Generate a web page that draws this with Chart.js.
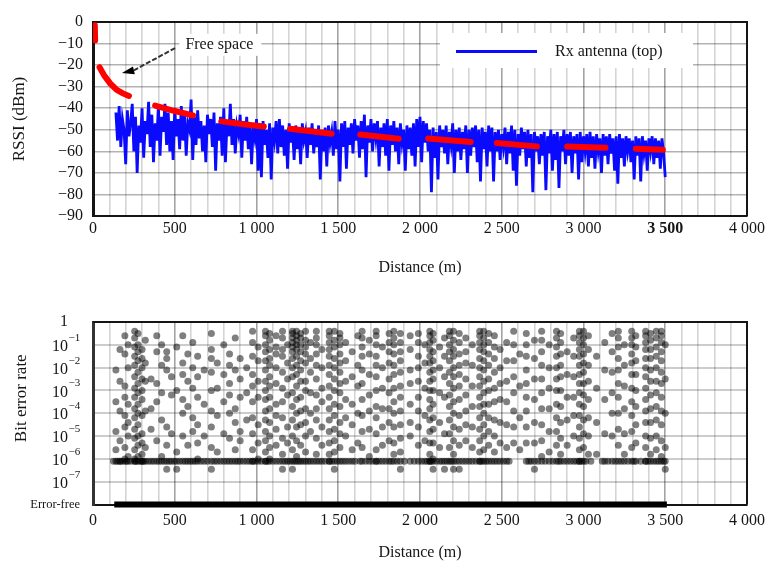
<!DOCTYPE html>
<html>
<head>
<meta charset="utf-8">
<script src="https://cdn.jsdelivr.net/npm/chart.js@4.4.1/dist/chart.umd.min.js"></script>
<style>
  html, body { margin: 0; padding: 0; background: #fff; }
  .panel { position: relative; width: 765px; }
  #rssi-wrap { height: 290px; }
  #ber-wrap { height: 271px; }
</style>
</head>
<body>
<div class="panel" id="rssi-wrap"><canvas id="rssi-chart"></canvas></div>
<div class="panel" id="ber-wrap"><canvas id="ber-chart"></canvas></div>
<script>
// ---- data ----

// free-space model, drawn as separate dashes (null = break)
const redDist = [11, 13, null, 40, 70, 105, 145, 180, 220, null, 380, 500, 612, null,
  785, 920, 1045, null, 1205, 1460, null, 1635, 1870, null, 2050, 2310, null,
  2470, 2715, null, 2900, 3135, null, 3320, 3485];
const redRssi = [-1.5, -8.5, null, -21, -25, -28.5, -31.5, -33, -34.3, null, -38.8, -41.3, -43.3, null,
  -46.1, -47.4, -48.5, null, -49.5, -51.8, null, -52.2, -54.2, null, -54, -55.7, null,
  -56.1, -57.7, null, -57.8, -58.3, null, -58.8, -59.3];

// measured RSSI, one sample every 10 m from 140 m
const blueStart = 140;
const blueStep = 10;
const blueRssi = [
  -42, -55, -39, -58, -45, -50, -66, -41, -53, -47,
  -38, -60, -44, -70, -48, -56, -40, -63, -46, -52,
  -37, -58, -43, -65, -47, -55, -39, -62, -44, -51,
  -38, -57, -42, -60, -46, -64, -40, -53, -45, -59,
  -39, -55, -43, -62, -47, -50, -36, -64, -44, -57,
  -41, -54, -46, -60, -48, -65, -43, -52, -45, -58,
  -42, -69, -47, -55, -44, -62, -40, -65, -46, -53,
  -38, -57, -45, -61, -48, -52, -43, -63, -46, -55,
  -44, -59, -47, -66, -49, -54, -45, -69, -48, -72,
  -46, -57, -50, -63, -47, -73, -49, -55, -46, -61,
  -45, -58, -48, -62, -50, -68, -47, -56, -49, -64,
  -48, -59, -50, -66, -47, -55, -51, -63, -49, -57,
  -47, -61, -50, -58, -48, -73, -51, -60, -49, -67,
  -48, -56, -51, -62, -46, -59, -50, -74, -47, -58,
  -46, -68, -49, -57, -47, -61, -45, -55, -48, -63,
  -46, -59, -43, -72, -48, -56, -45, -60, -47, -54,
  -46, -67, -49, -58, -47, -62, -45, -69, -48, -57,
  -46, -60, -49, -66, -47, -56, -50, -69, -48, -59,
  -49, -62, -47, -67, -45, -58, -44, -65, -46, -56,
  -47, -60, -50, -79, -49, -63, -51, -73, -48, -58,
  -50, -61, -48, -66, -51, -57, -47, -70, -50, -60,
  -49, -64, -51, -59, -48, -70, -50, -62, -49, -58,
  -48, -65, -50, -74, -49, -59, -51, -67, -48, -60,
  -49, -74, -51, -60, -50, -64, -52, -58, -49, -66,
  -51, -61, -48, -69, -50, -76, -52, -62, -49, -59,
  -51, -67, -50, -63, -52, -79, -51, -60, -53, -66,
  -52, -62, -51, -78, -53, -61, -50, -69, -52, -64,
  -51, -77, -53, -60, -50, -66, -52, -62, -51, -70,
  -53, -61, -52, -73, -51, -65, -53, -60, -52, -67,
  -51, -63, -53, -68, -52, -60, -54, -70, -52, -62,
  -53, -66, -52, -61, -54, -69, -53, -75, -52, -63,
  -54, -67, -53, -60, -54, -65, -55, -73, -53, -62,
  -54, -74, -53, -61, -55, -69, -54, -60, -53, -66,
  -54, -63, -55, -68, -54, -61, -72,
];

// bit error rate: measurement columns (m) and log10(BER) of each point in them
const berDist = [140, 165, 195, 215, 255, 275, 300, 320, 355, 390, 420, 451, 480, 512, 549, 580, 610, 640,
  680, 724, 760, 800, 835, 870, 900, 940, 976, 1010, 1055, 1080, 1120, 1159, 1190, 1220, 1245,
  1270, 1300, 1330, 1366, 1400, 1445, 1476, 1510, 1545, 1585, 1620, 1646, 1690, 1732, 1770,
  1811, 1840, 1880, 1940, 1990, 2030, 2060, 2080, 2120, 2150, 2180, 2205, 2240, 2280, 2320,
  2365, 2390, 2420, 2455, 2490, 2530, 2573, 2610, 2650, 2700, 2744, 2790, 2835, 2860, 2900,
  2940, 2975, 3000, 3030, 3080, 3130, 3175, 3213, 3250, 3295, 3320, 3380, 3410, 3445, 3476, 3500];
const berLog = [
  [-2.1, -3.5, -4.8, -6.1, -5.6],
  [-1.2, -2.6, -3.9, -5.2, -6.1, -6.1],
  [-0.6, -1.4, -2.8, -3.3, -4.1, -4.6, -5.5, -6.1, -6.0],
  [-1.0, -2.0, -3.6, -4.4, -5.0, -5.9, -6.1],
  [-0.4, -0.7, -1.1, -1.5, -1.9, -2.4, -2.9, -3.3, -3.8, -4.2, -4.7, -5.1, -5.6, -6.0, -6.1, -6.1],
  [-0.5, -1.0, -1.3, -1.7, -2.2, -2.7, -3.1, -3.6, -4.0, -4.5, -5.0, -5.4, -5.9, -6.1],
  [-1.2, -1.6, -2.0, -2.5, -3.0, -3.4, -4.1, -4.9, -5.3, -5.8, -6.1, -6.1],
  [-0.8, -1.8, -2.6, -3.9, -5.5, -6.1],
  [-2.5, -3.8, -4.7, -6.1],
  [-0.6, -1.3, -2.7, -3.5, -5.2, -6.1],
  [-1.0, -1.9, -3.1, -4.3, -5.9, -6.1],
  [-1.3, -1.6, -2.1, -4.6, -5.4, -6.1, -6.45],
  [-2.4, -3.2, -4.9, -6.1],
  [-1.1, -3.0, -5.7, -6.1, -6.45],
  [-0.6, -1.8, -2.3, -3.4, -4.0, -5.0, -6.1],
  [-1.4, -2.6, -3.7, -5.4, -6.1],
  [-0.9, -2.0, -2.9, -4.2, -4.8, -6.1],
  [-1.5, -2.4, -3.3, -4.5, -5.3, -6.1, -6.0],
  [-2.1, -3.6, -5.0, -6.1],
  [-0.5, -1.2, -1.6, -2.2, -3.0, -3.9, -4.6, -5.5, -6.1, -6.45],
  [-1.8, -2.9, -4.1, -5.7, -6.1],
  [-1.0, -2.3, -3.5, -4.9, -6.1],
  [-1.4, -1.9, -2.7, -3.2, -4.0, -5.1, -6.1],
  [-0.7, -2.1, -3.8, -4.4, -5.6, -6.1],
  [-1.6, -2.5, -3.3, -4.8, -5.2, -6.1],
  [-2.0, -3.1, -4.3, -6.1],
  [-0.4, -0.9, -1.5, -2.3, -2.8, -3.5, -4.2, -4.9, -5.6, -6.1, -6.1],
  [-1.1, -1.7, -2.6, -3.3, -4.5, -5.3, -6.0, -6.1],
  [-0.4, -0.6, -1.0, -1.3, -1.7, -2.1, -2.6, -3.0, -3.4, -3.9, -4.3, -4.8, -5.2, -5.7, -6.1, -6.1],
  [-0.5, -0.8, -1.2, -1.6, -1.9, -2.4, -2.8, -3.3, -3.8, -4.4, -5.0, -5.5, -6.0, -6.1],
  [-0.6, -1.1, -1.4, -2.0, -2.7, -3.6, -4.1, -4.7, -5.4, -6.1],
  [-0.4, -0.7, -1.2, -1.5, -2.2, -2.9, -3.5, -4.2, -5.1, -5.8, -6.1, -6.45],
  [-1.0, -1.8, -2.5, -3.2, -4.6, -5.3, -6.1],
  [-0.4, -0.5, -0.7, -0.9, -1.1, -1.3, -1.6, -2.0, -2.4, -3.1, -3.7, -4.3, -5.0, -5.6, -6.1, -6.45],
  [-0.4, -0.6, -0.8, -1.0, -1.2, -1.5, -1.9, -2.3, -2.8, -3.4, -4.0, -4.6, -5.2, -5.9, -6.1],
  [-0.5, -0.7, -1.0, -1.3, -1.7, -2.1, -2.6, -3.3, -3.9, -4.5, -5.4, -6.1],
  [-0.4, -0.8, -1.1, -1.4, -1.8, -2.6, -3.0, -3.8, -4.4, -5.0, -5.7, -6.1],
  [-0.9, -1.6, -2.2, -3.1, -4.0, -4.8, -6.1],
  [-0.4, -0.7, -1.0, -1.4, -1.9, -2.5, -3.2, -3.8, -4.3, -5.1, -5.8, -6.1],
  [-1.2, -2.0, -2.9, -3.5, -4.6, -5.4, -6.1],
  [-0.4, -0.6, -0.9, -1.2, -1.5, -1.9, -2.3, -2.8, -3.3, -3.8, -4.3, -4.8, -5.3, -5.8, -6.1, -6.1],
  [-0.4, -0.8, -1.1, -1.6, -2.0, -2.5, -3.0, -3.6, -4.1, -4.7, -5.2, -5.7, -6.1, -6.45],
  [-0.5, -0.7, -1.0, -1.4, -1.8, -2.2, -2.7, -3.1, -3.7, -4.4, -4.9, -5.5, -6.1],
  [-0.9, -1.7, -2.6, -3.4, -4.2, -5.0, -6.1],
  [-1.3, -2.4, -3.6, -4.5, -5.6, -6.1],
  [-0.6, -1.9, -2.8, -4.0, -5.3],
  [-0.4, -0.7, -1.1, -1.5, -2.1, -2.7, -3.4, -4.1, -4.8, -5.5, -6.1],
  [-0.8, -1.4, -2.3, -3.2, -3.9, -4.7, -5.9, -6.1],
  [-0.4, -0.6, -1.0, -1.5, -1.9, -2.4, -3.0, -3.7, -4.2, -4.9, -5.6, -6.1, -6.1],
  [-1.1, -2.0, -2.9, -3.8, -4.6, -5.4, -6.1],
  [-0.5, -0.9, -1.3, -1.8, -2.5, -3.1, -3.8, -4.4, -5.2, -6.1],
  [-0.4, -0.7, -1.0, -1.4, -1.9, -2.3, -2.9, -3.5, -4.0, -4.6, -5.3, -5.8, -6.1],
  [-0.5, -0.9, -1.3, -1.7, -2.2, -2.8, -3.3, -3.9, -4.5, -5.1, -5.7, -6.1, -6.45],
  [-0.6, -1.2, -2.1, -2.7, -3.6, -4.4, -5.0, -6.1],
  [-0.5, -0.9, -1.5, -2.0, -2.6, -3.3, -3.9, -4.6, -5.4, -6.1],
  [-1.0, -1.8, -2.9, -4.1, -5.2, -6.1],
  [-0.4, -0.6, -0.9, -1.2, -1.5, -1.8, -2.2, -2.6, -3.0, -3.4, -3.8, -4.3, -4.8, -5.3, -5.8, -6.1, -6.1],
  [-0.5, -0.8, -1.3, -1.7, -2.1, -2.5, -3.0, -3.6, -4.2, -4.7, -5.3, -6.0, -6.1, -6.45],
  [-1.1, -2.0, -3.1, -4.4, -5.5, -6.1],
  [-0.7, -1.5, -2.4, -3.3, -4.9, -6.1, -6.45],
  [-0.4, -0.6, -1.0, -1.3, -1.7, -2.2, -2.7, -3.2, -3.7, -4.3, -4.9, -5.5, -6.1],
  [-0.4, -0.8, -1.2, -1.5, -2.0, -2.4, -2.9, -3.5, -4.0, -4.6, -5.2, -5.8, -6.1, -6.45],
  [-0.5, -0.9, -1.4, -1.9, -2.3, -2.8, -3.4, -4.1, -4.7, -5.4, -6.1, -6.45],
  [-0.7, -1.3, -1.8, -2.5, -3.2, -3.9, -4.5, -5.2, -6.1],
  [-1.0, -1.9, -2.8, -3.7, -4.6, -5.5, -6.1],
  [-0.4, -0.6, -0.9, -1.2, -1.6, -2.0, -2.4, -2.8, -3.3, -3.7, -4.2, -4.7, -5.2, -5.7, -6.1, -6.1],
  [-0.4, -0.7, -1.0, -1.3, -1.7, -2.1, -2.6, -3.1, -3.6, -4.0, -4.5, -5.0, -5.6, -6.1],
  [-0.5, -0.9, -1.4, -1.9, -2.5, -3.0, -3.6, -4.2, -4.8, -5.4, -6.1],
  [-0.6, -1.1, -1.6, -2.2, -2.9, -3.5, -4.3, -5.0, -5.7, -6.1],
  [-1.2, -2.0, -2.7, -3.4, -4.4, -5.3, -6.1],
  [-0.9, -1.7, -2.6, -3.5, -4.5, -5.5, -6.1],
  [-0.4, -1.0, -1.7, -2.4, -3.1, -3.9, -4.6, -5.3],
  [-1.4, -2.8, -4.2, -5.6],
  [-0.5, -1.0, -1.5, -2.1, -2.7, -3.3, -3.9, -4.6, -5.3, -6.1],
  [-0.8, -1.6, -2.5, -3.4, -4.4, -5.3, -6.1, -6.45],
  [-0.4, -0.8, -1.3, -1.9, -2.5, -3.1, -3.8, -4.5, -5.2, -5.9, -6.1],
  [-1.0, -2.0, -2.9, -3.8, -4.8, -5.7, -6.1],
  [-0.4, -0.7, -1.1, -1.5, -2.0, -2.5, -3.0, -3.6, -4.2, -4.8, -5.4, -6.1],
  [-0.5, -0.9, -1.4, -1.9, -2.4, -3.0, -3.7, -4.4, -5.1, -5.8, -6.1],
  [-1.3, -2.3, -3.3, -4.3, -5.4, -6.1],
  [-0.7, -1.5, -2.4, -3.3, -4.1, -5.0, -6.1],
  [-0.4, -0.6, -0.9, -1.2, -1.5, -1.9, -2.3, -2.7, -3.1, -3.6, -4.1, -4.6, -5.1, -5.6, -6.1, -6.1],
  [-0.4, -0.7, -1.0, -1.4, -1.8, -2.2, -2.7, -3.2, -3.7, -4.3, -4.9, -5.5, -6.1],
  [-0.6, -1.2, -1.9, -2.6, -3.4, -4.2, -5.0, -5.8],
  [-1.5, -2.9, -4.4, -5.8],
  [-0.9, -2.1, -3.4, -4.9, -6.1],
  [-0.5, -1.3, -2.2, -3.1, -4.0, -5.0, -6.1],
  [-0.4, -0.7, -1.1, -1.6, -2.1, -2.7, -3.3, -4.0, -4.7, -5.4, -6.1],
  [-1.0, -1.9, -2.8, -3.8, -4.9, -5.8, -6.1],
  [-0.4, -0.7, -1.0, -1.4, -1.8, -2.3, -2.9, -3.5, -4.1, -4.8, -5.5, -6.1],
  [-0.6, -1.1, -1.7, -2.3, -3.0, -3.7, -4.5, -5.3, -6.1],
  [-0.4, -0.6, -0.9, -1.2, -1.6, -2.0, -2.4, -2.9, -3.4, -3.9, -4.4, -5.0, -5.5, -6.1, -6.1],
  [-0.5, -0.8, -1.2, -1.6, -2.1, -2.6, -3.2, -3.8, -4.4, -5.1, -5.8, -6.1],
  [-0.4, -0.7, -1.1, -1.5, -2.0, -2.6, -3.1, -3.7, -4.3, -5.0, -5.6, -6.1],
  [-0.4, -0.6, -0.9, -1.3, -1.7, -2.2, -2.7, -3.3, -3.9, -4.5, -5.2, -5.9, -6.1],
  [-1.0, -2.5, -4.0, -5.5, -6.1, -6.45],
];

// runs that only reached the lowest measurable BER (the flat floor row)
const berFloorLog = -6.1;
const berFloorDist = [125, 150, 180, 205, 232, 265, 288, 310, 338, 372, 405, 436, 466, 497, 530,
  565, 595, 625, 660, 700, 742, 780, 818, 852, 885, 920, 958, 992, 1030, 1068, 1100, 1140, 1175,
  1205, 1232, 1258, 1285, 1315, 1348, 1383, 1420, 1460, 1493, 1527, 1565, 1603, 1633, 1668, 1710,
  1750, 1790, 1825, 1860, 1905, 1965, 2010, 2045, 2070, 2100, 2135, 2165, 2192, 2222, 2260, 2300,
  2342, 2378, 2405, 2438, 2472, 2510, 2545, 2665, 2680, 2722, 2766, 2812, 2848, 2880, 2920, 2958,
  2988, 3015, 3045, 3115, 3150, 3195, 3232, 3272, 3308, 3350, 3395, 3428, 3460, 3490];

// error-free runs sit on the bottom of the BER axis
const errorFreeDist = [130, 3510];
const errorFreeLevel = 1e-8;

// axis ticks
const rssiTicks = [0, -10, -20, -30, -40, -50, -60, -70, -80, -90];
const berTickExps = [0, -1, -2, -3, -4, -5, -6, -7, -8];
const labelledDistances = [0, 500, 1000, 1500, 2000, 2500, 3000, 3500, 4000];

const freeSpaceNote = {
  text: 'Free space',
  labelAt: [565, -10.6],
  lineFrom: [502, -12.1],
  arrowBase: [250, -22.4],
  arrowTip: [177, -23.7],
};

// ---- helpers ----
const SERIF = "'Liberation Serif', 'Times New Roman', serif";
const INK = '#151515';

function formatDistance(value) {
  if (!labelledDistances.includes(value)) {
    return '';
  }
  if (value < 1000) {
    return String(value);
  }
  return `${Math.floor(value / 1000)} ${String(value % 1000).padStart(3, '0')}`;
}

function distanceGridColor(ctx) {
  const v = ctx.tick ? ctx.tick.value : 1;
  return v % 500 === 0 ? 'rgba(0,0,0,0.36)' : 'rgba(0,0,0,0.17)';
}

function distanceAxis(tickPadding, titleFont, titlePadding, axisHeight, boldValue) {
  return {
    type: 'linear',
    min: 0,
    max: 4000,
    afterFit: (scale) => {
      scale.height = axisHeight;
      scale.paddingLeft = 0;
      scale.paddingRight = 0;
    },
    ticks: {
      stepSize: 100,
      autoSkip: false,
      maxRotation: 0,
      padding: tickPadding,
      color: INK,
      font: (ctx) => ({
        family: SERIF,
        size: 16,
        weight: ctx.tick && ctx.tick.value === boldValue ? 'bold' : 'normal',
      }),
      callback: (value) => formatDistance(value),
    },
    grid: { color: distanceGridColor, lineWidth: 1.6, drawTicks: false },
    border: { display: true, color: INK, width: 2 },
    title: {
      display: true,
      text: 'Distance (m)',
      color: INK,
      font: titleFont,
      padding: titlePadding,
    },
  };
}

const framePlugin = {
  id: 'frame',
  beforeDatasetsDraw(chart) {
    const { ctx, chartArea: a } = chart;
    ctx.save();
    ctx.strokeStyle = INK;
    ctx.lineWidth = 2;
    ctx.beginPath();
    ctx.moveTo(a.left, a.top);
    ctx.lineTo(a.right, a.top);
    ctx.lineTo(a.right, a.bottom);
    ctx.stroke();
    ctx.restore();
  },
};

const rssiNotesPlugin = {
  id: 'rssiNotes',
  beforeDatasetsDraw(chart) {
    const { ctx, scales } = chart;
    const px = ([d, v]) => [scales.x.getPixelForValue(d), scales.y.getPixelForValue(v)];
    ctx.save();

    // legend box
    ctx.fillStyle = '#fff';
    ctx.fillRect(440, 33, 253, 35);
    ctx.strokeStyle = '#0a0aff';
    ctx.lineWidth = 3;
    ctx.beginPath();
    ctx.moveTo(456, 51.5);
    ctx.lineTo(537, 51.5);
    ctx.stroke();
    ctx.fillStyle = INK;
    ctx.font = `16px ${SERIF}`;
    ctx.textBaseline = 'middle';
    ctx.textAlign = 'left';
    ctx.fillText('Rx antenna (top)', 555, 52);

    // free space label
    const [lx, ly] = px(freeSpaceNote.labelAt);
    const w = ctx.measureText(freeSpaceNote.text).width;
    ctx.fillStyle = '#fff';
    ctx.fillRect(lx - 6, ly - 11, w + 14, 22);
    ctx.fillStyle = INK;
    ctx.fillText(freeSpaceNote.text, lx, ly);

    // arrow
    const [fx, fy] = px(freeSpaceNote.lineFrom);
    const [bx, by] = px(freeSpaceNote.arrowBase);
    const [tx, ty] = px(freeSpaceNote.arrowTip);
    ctx.strokeStyle = '#333';
    ctx.lineWidth = 2;
    ctx.setLineDash([5, 2]);
    ctx.beginPath();
    ctx.moveTo(fx, fy);
    ctx.lineTo(bx, by);
    ctx.stroke();
    ctx.setLineDash([]);
    const ang = Math.atan2(ty - by, tx - bx);
    const half = 4;
    ctx.fillStyle = '#000';
    ctx.beginPath();
    ctx.moveTo(tx, ty);
    ctx.lineTo(bx + Math.sin(ang) * half, by - Math.cos(ang) * half);
    ctx.lineTo(bx - Math.sin(ang) * half, by + Math.cos(ang) * half);
    ctx.closePath();
    ctx.fill();
    ctx.restore();
  },
};

const berLabelsPlugin = {
  id: 'berLabels',
  afterDraw(chart) {
    const { ctx, scales, chartArea } = chart;
    ctx.save();
    ctx.fillStyle = INK;
    ctx.textBaseline = 'middle';
    berTickExps.forEach((exp) => {
      const y = scales.y.getPixelForValue(10 ** exp);
      if (exp === 0) {
        ctx.font = `16px ${SERIF}`;
        ctx.textAlign = 'right';
        ctx.fillText('1', 68, y);
      } else if (10 ** exp === errorFreeLevel) {
        ctx.font = `12.5px ${SERIF}`;
        ctx.textAlign = 'right';
        ctx.fillText('Error-free', 80, y);
      } else {
        ctx.font = `16px ${SERIF}`;
        ctx.textAlign = 'right';
        ctx.fillText('10', 68, y + 2);
        ctx.font = `11px ${SERIF}`;
        ctx.textAlign = 'left';
        ctx.fillText(`\u2212${-exp}`, 68.5, y - 7);
      }
    });

    ctx.translate(22, (chartArea.top + chartArea.bottom) / 2 - 15);
    ctx.rotate(-Math.PI / 2);
    ctx.textAlign = 'center';
    ctx.font = `17px ${SERIF}`;
    ctx.fillText('Bit error rate', 0, 0);
    ctx.restore();
  },
};

// ---- RSSI chart ----
const blueData = blueRssi.map((v, i) => ({ x: blueStart + i * blueStep, y: v }));
const redData = redDist.map((d, i) => ({ x: d, y: redRssi[i] }));

new Chart(document.getElementById('rssi-chart'), {
  type: 'line',
  data: {
    datasets: [
      {
        label: 'Free space',
        data: redData,
        borderColor: '#ff0000',
        borderWidth: 6,
        borderCapStyle: 'round',
        pointRadius: 0,
        spanGaps: false,
      },
      {
        label: 'Rx antenna (top)',
        data: blueData,
        borderColor: '#0a0aff',
        borderWidth: 2.8,
        pointRadius: 0,
      },
    ],
  },
  options: {
    responsive: true,
    maintainAspectRatio: false,
    animation: false,
    devicePixelRatio: 1,
    layout: { padding: { top: 22, right: 18, bottom: 0, left: 0 } },
    plugins: { legend: { display: false }, tooltip: { enabled: false } },
    scales: {
      x: distanceAxis(3, { family: SERIF, size: 16 }, { top: 0, bottom: 12.4 }, 74, 3500),
      y: {
        min: -90,
        max: 0,
        afterBuildTicks: (scale) => {
          scale.ticks = rssiTicks.map((value) => ({ value }));
        },
        afterFit: (scale) => {
          scale.width = 93;
        },
        ticks: {
          autoSkip: false,
          padding: 10,
          color: INK,
          font: { family: SERIF, size: 16 },
          callback: (value) => (value === 0 ? '0' : `\u2212${Math.abs(value)}`),
        },
        grid: { color: 'rgba(0,0,0,0.3)', lineWidth: 1.6, drawTicks: false },
        border: { display: true, color: INK, width: 3 },
        title: {
          display: true,
          text: 'RSSI (dBm)',
          color: INK,
          font: { family: SERIF, size: 17 },
          padding: { top: 9.8, bottom: 0 },
        },
      },
    },
  },
  plugins: [framePlugin, rssiNotesPlugin],
});

// ---- BER chart ----
const berPoints = [];
berDist.forEach((d, i) => {
  berLog[i].forEach((exp) => berPoints.push({ x: d, y: 10 ** exp }));
});
berFloorDist.forEach((d) => berPoints.push({ x: d, y: 10 ** berFloorLog }));
const errorFreeData = errorFreeDist.map((d) => ({ x: d, y: errorFreeLevel }));

new Chart(document.getElementById('ber-chart'), {
  type: 'scatter',
  data: {
    datasets: [
      {
        type: 'line',
        label: 'Error-free',
        data: errorFreeData,
        borderColor: '#000',
        borderWidth: 6,
        pointRadius: 0,
        clip: 8,
      },
      {
        label: 'BER',
        data: berPoints,
        pointRadius: 3.5,
        pointBackgroundColor: 'rgba(0,0,0,0.5)',
        pointBorderWidth: 0,
      },
    ],
  },
  options: {
    responsive: true,
    maintainAspectRatio: false,
    animation: false,
    devicePixelRatio: 1,
    layout: { padding: { top: 32, right: 18, bottom: 0, left: 0 } },
    plugins: { legend: { display: false }, tooltip: { enabled: false } },
    scales: {
      x: distanceAxis(7, { family: SERIF, size: 16, lineHeight: 1 }, { top: 0, bottom: 0 }, 56.5, null),
      y: {
        type: 'logarithmic',
        min: 1e-8,
        max: 1,
        afterBuildTicks: (scale) => {
          scale.ticks = berTickExps.map((exp) => ({ value: 10 ** exp }));
        },
        afterFit: (scale) => {
          scale.width = 93;
        },
        ticks: { display: false },
        grid: { color: 'rgba(0,0,0,0.2)', lineWidth: 2, drawTicks: false },
        border: { display: true, color: '#333', width: 3 },
      },
    },
  },
  plugins: [framePlugin, berLabelsPlugin],
});
</script>
</body>
</html>
